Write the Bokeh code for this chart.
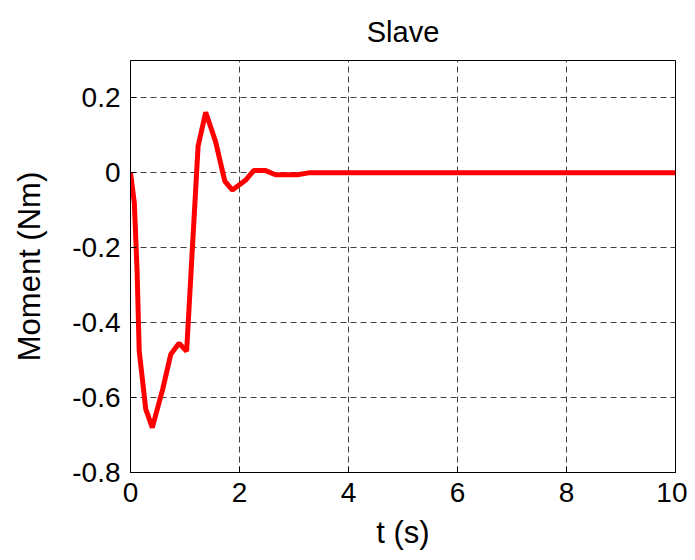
from bokeh.plotting import figure
from bokeh.models import FixedTicker, Range1d
from bokeh.embed import file_html
from bokeh.resources import INLINE

# data
t_values = [0.0, 0.07, 0.12, 0.16, 0.28, 0.40, 0.59, 0.74, 0.89, 1.03, 1.24, 1.38,
            1.56, 1.73, 1.87, 2.11, 2.26, 2.48, 2.66, 3.06, 3.27, 10.0]
moment_values = [0.0, -0.08, -0.258, -0.476, -0.631, -0.68, -0.578, -0.484, -0.455,
                 -0.476, 0.071, 0.162, 0.084, -0.022, -0.046, -0.02, 0.006, 0.006,
                 -0.005, -0.005, 0.0, 0.0]
x_ticks = [0, 2, 4, 6, 8, 10]
y_ticks = [-0.8, -0.6, -0.4, -0.2, 0, 0.2]
y_tick_labels = ["-0.8", "-0.6", "-0.4", "-0.2", "0", "0.2"]

FONT = "Liberation Sans"

p = figure(width=687, height=552, output_backend="svg", toolbar_location=None,
           x_range=Range1d(0, 10), y_range=Range1d(-0.8, 0.3),
           min_border_left=130, min_border_right=12, min_border_top=59, min_border_bottom=77,
           title="Slave")

p.title.align = "center"
p.title.text_font = FONT
p.title.text_font_size = "29px"
p.title.text_font_style = "normal"
p.title.text_color = "black"
p.title.standoff = 26

p.line(t_values, moment_values, line_color="#ff0000", line_width=5)

p.outline_line_color = "black"
p.outline_line_width = 1
p.outline_line_alpha = 1

for ax in (p.xaxis[0], p.yaxis[0]):
    ax.major_label_text_font = FONT
    ax.major_label_text_font_size = "28px"
    ax.major_label_text_color = "black"
    ax.axis_label_text_font = FONT
    ax.axis_label_text_font_style = "normal"
    ax.axis_label_text_color = "black"
    ax.major_tick_in = 6
    ax.major_tick_out = 0
    ax.minor_tick_line_color = None
    ax.axis_line_color = "black"

p.xaxis[0].ticker = FixedTicker(ticks=x_ticks)
p.yaxis[0].ticker = FixedTicker(ticks=y_ticks)
p.yaxis[0].major_label_overrides = {v: s for v, s in zip(y_ticks, y_tick_labels)}
p.xaxis[0].axis_label = "t (s)"
p.yaxis[0].axis_label = "Moment (Nm)"
p.xaxis[0].axis_label_text_font_size = "31px"
p.yaxis[0].axis_label_text_font_size = "31px"
p.xaxis[0].major_label_standoff = 10
p.yaxis[0].major_label_standoff = 10
p.xaxis[0].axis_label_standoff = 10
p.yaxis[0].axis_label_standoff = 22

for g in (p.xgrid[0], p.ygrid[0]):
    g.grid_line_color = "black"
    g.grid_line_alpha = 0.75
    g.grid_line_dash = "6 4"
    g.grid_line_width = 1
p.xgrid[0].ticker = FixedTicker(ticks=x_ticks)
p.ygrid[0].ticker = FixedTicker(ticks=y_ticks)

p.background_fill_color = "white"
p.border_fill_color = "white"

open("out.html", "w").write(file_html(p, INLINE))
